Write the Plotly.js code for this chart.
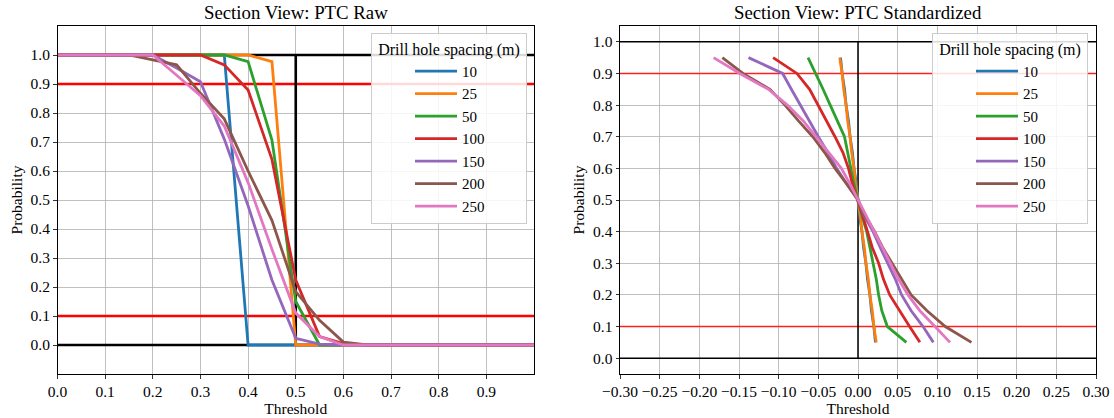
<!DOCTYPE html>
<html>
<head>
<meta charset="utf-8">
<script src="https://cdn.plot.ly/plotly-3.0.1.min.js"></script>
<style>
  html, body { margin: 0; padding: 0; background: #ffffff; }
  #chart { width: 1114px; height: 418px; }
</style>
</head>
<body>
<div id="chart"></div>
<script>
// ---------- DATA ----------
const spacings = ["10", "25", "50", "100", "150", "200", "250"];
const colors = ["#1f77b4", "#ff7f0e", "#2ca02c", "#d62728", "#9467bd", "#8c564b", "#e377c2"];

// Left panel: thresholds and probabilities (PTC Raw)
const thresholds = [0.0, 0.05, 0.1, 0.15, 0.2, 0.25, 0.3, 0.35, 0.4, 0.45, 0.5, 0.55, 0.6, 0.65, 0.7, 0.75, 0.8, 0.85, 0.9, 0.95, 1.0];
const raw10  = [1, 1, 1, 1, 1, 1, 1, 1, 0, 0, 0, 0, 0, 0, 0, 0, 0, 0, 0, 0, 0];
const raw25  = [1, 1, 1, 1, 1, 1, 1, 1, 1, 0.977, 0, 0, 0, 0, 0, 0, 0, 0, 0, 0, 0];
const raw50  = [1, 1, 1, 1, 1, 1, 1, 1, 0.977, 0.707, 0.15, 0, 0, 0, 0, 0, 0, 0, 0, 0, 0];
const raw100 = [1, 1, 1, 1, 1, 1, 1, 0.966, 0.879, 0.64, 0.224, 0.029, 0.005, 0, 0, 0, 0, 0, 0, 0, 0];
const raw150 = [1, 1, 1, 1, 1, 0.955, 0.908, 0.71, 0.48, 0.224, 0.023, 0.003, 0, 0, 0, 0, 0, 0, 0, 0, 0];
const raw200 = [1, 1, 1, 1, 0.983, 0.966, 0.868, 0.78, 0.60, 0.43, 0.184, 0.085, 0.01, 0, 0, 0, 0, 0, 0, 0, 0];
const raw250 = [1, 1, 1, 1, 1, 0.93, 0.86, 0.755, 0.56, 0.33, 0.11, 0.029, 0, 0, 0, 0, 0, 0, 0, 0, 0];

// Right panel: probabilities and standardized thresholds (PTC Standardized)
const probs = [0.95, 0.9, 0.85, 0.8, 0.75, 0.7, 0.65, 0.6, 0.55, 0.5, 0.45, 0.4, 0.35, 0.3, 0.25, 0.2, 0.15, 0.1, 0.05];
const std10  = [-0.022, -0.020, -0.017, -0.015, -0.012, -0.010, -0.007, -0.005, -0.002, 0.0, 0.002, 0.005, 0.007, 0.010, 0.012, 0.015, 0.017, 0.020, 0.022];
const std25  = [-0.023, -0.020, -0.018, -0.015, -0.013, -0.010, -0.008, -0.005, -0.003, 0.0, 0.003, 0.005, 0.008, 0.010, 0.013, 0.015, 0.018, 0.020, 0.023];
const std50  = [-0.063, -0.053, -0.044, -0.035, -0.026, -0.017, -0.013, -0.009, -0.005, 0.0, 0.005, 0.011, 0.015, 0.019, 0.023, 0.026, 0.030, 0.037, 0.061];
const std100 = [-0.107, -0.077, -0.061, -0.050, -0.039, -0.029, -0.019, -0.012, -0.007, 0.0, 0.006, 0.012, 0.018, 0.026, 0.032, 0.040, 0.052, 0.065, 0.078];
const std150 = [-0.138, -0.095, -0.084, -0.073, -0.062, -0.050, -0.038, -0.027, -0.014, 0.0, 0.008, 0.019, 0.028, 0.038, 0.047, 0.055, 0.067, 0.082, 0.095];
const std200 = [-0.171, -0.145, -0.111, -0.092, -0.075, -0.057, -0.042, -0.029, -0.014, 0.0, 0.009, 0.021, 0.031, 0.043, 0.055, 0.067, 0.087, 0.110, 0.143];
const std250 = [-0.182, -0.149, -0.113, -0.089, -0.069, -0.053, -0.036, -0.021, -0.010, 0.0, 0.010, 0.021, 0.030, 0.040, 0.051, 0.063, 0.078, 0.097, 0.116];

// Reference lines
const leftRefX = [0, 1];
const leftVertX = 0.5;
const rightRefX = [-0.3, 0.3];
const rightVertX = 0.0;
const hLevelsBlack = [0.0, 1.0];
const hLevelsRed = [0.1, 0.9];

const leftTicks = [0.0, 0.1, 0.2, 0.3, 0.4, 0.5, 0.6, 0.7, 0.8, 0.9];
const rightTicks = [-0.30, -0.25, -0.20, -0.15, -0.10, -0.05, 0.00, 0.05, 0.10, 0.15, 0.20, 0.25, 0.30];
const probTicks = [0.0, 0.1, 0.2, 0.3, 0.4, 0.5, 0.6, 0.7, 0.8, 0.9, 1.0];

const rawSeries = [raw10, raw25, raw50, raw100, raw150, raw200, raw250];
const stdSeries = [std10, std25, std50, std100, std150, std200, std250];

// ---------- STYLE ----------
const FONT = "Liberation Serif, Times New Roman, serif";
const FS = 15.5;
const LFS = 15;
const LTFS = 16;
const W = 1114, H = 418;

function refLine(x, y, color, width, xa, ya) {
  return { x: x, y: y, mode: "lines", type: "scatter", xaxis: xa, yaxis: ya,
           line: { color: color, width: width }, showlegend: false, hoverinfo: "skip" };
}

const traces = [];
// left reference lines
hLevelsBlack.forEach(v => traces.push(refLine(leftRefX, [v, v], "#000000", 2.6, "x", "y")));
hLevelsRed.forEach(v => traces.push(refLine(leftRefX, [v, v], "#ff0000", 2.6, "x", "y")));
traces.push(refLine([leftVertX, leftVertX], [0, 1], "#000000", 2.6, "x", "y"));
// right reference lines
hLevelsBlack.forEach(v => traces.push(refLine(rightRefX, [v, v], "#000000", 1.5, "x2", "y2")));
hLevelsRed.forEach(v => traces.push(refLine(rightRefX, [v, v], "#ff2020", 1.5, "x2", "y2")));
traces.push(refLine([rightVertX, rightVertX], [0, 1], "#000000", 1.5, "x2", "y2"));

spacings.forEach((s, i) => {
  traces.push({ x: thresholds, y: rawSeries[i], type: "scatter", mode: "lines", name: s,
    xaxis: "x", yaxis: "y", legend: "legend",
    line: { color: colors[i], width: 2.8 } });
});
spacings.forEach((s, i) => {
  traces.push({ x: stdSeries[i], y: probs, type: "scatter", mode: "lines", name: s,
    xaxis: "x2", yaxis: "y2", legend: "legend2",
    line: { color: colors[i], width: 2.8 } });
});

const yDom = [1 - 374 / H, 1 - 26 / H];
const axCommon = {
  showgrid: true, gridcolor: "#b0b0b0", gridwidth: 0.8,
  showline: true, linecolor: "#000000", linewidth: 1, mirror: true,
  ticks: "outside", ticklen: 3.5, tickwidth: 0.8, tickcolor: "#000000",
  zeroline: false, automargin: false,
  tickfont: { family: FONT, size: FS, color: "#000000" }
};

function legendCfg(rightPx) {
  return {
    x: rightPx / W, xanchor: "right", y: 1 - 33 / H, yanchor: "top",
    bgcolor: "rgba(255,255,255,0.85)", bordercolor: "#cccccc", borderwidth: 1,
    font: { family: FONT, size: LFS, color: "#000000" },
    title: { text: "\u00a0Drill hole spacing (m)\u00a0", side: "top center", font: { family: FONT, size: LTFS, color: "#000000" } },
    itemwidth: 42, indentation: 38, traceorder: "normal"
  };
}

const layout = {
  width: W, height: H,
  margin: { l: 0, r: 0, t: 0, b: 0 },
  paper_bgcolor: "#ffffff", plot_bgcolor: "#ffffff",
  font: { family: FONT, size: FS, color: "#000000" },
  xaxis: Object.assign({}, axCommon, {
    domain: [57.5 / W, 534 / W], range: [0, 1], tickvals: leftTicks, tickformat: ".1f",
    anchor: "y",
    title: { text: "Threshold", font: { family: FONT, size: FS }, standoff: 4 }
  }),
  yaxis: Object.assign({}, axCommon, {
    domain: yDom, range: [-0.1, 1.1], tickvals: probTicks, tickformat: ".1f",
    anchor: "x",
    title: { text: "Probability", font: { family: FONT, size: FS }, standoff: 4 }
  }),
  xaxis2: Object.assign({}, axCommon, {
    domain: [620 / W, 1096 / W], range: [-0.3, 0.3], tickvals: rightTicks, tickformat: ".2f",
    anchor: "y2",
    title: { text: "Threshold", font: { family: FONT, size: FS }, standoff: 4 }
  }),
  yaxis2: Object.assign({}, axCommon, {
    domain: yDom, range: [-0.05, 1.05], tickvals: probTicks, tickformat: ".1f",
    anchor: "x2",
    title: { text: "Probability", font: { family: FONT, size: FS }, standoff: 4 }
  }),
  legend: legendCfg(527),
  legend2: legendCfg(1088),
  annotations: [
    { text: "Section View: PTC Raw", xref: "paper", yref: "paper",
      x: (57.5 + 534) / 2 / W, y: 1 - 13 / H, xanchor: "center", yanchor: "middle",
      showarrow: false, font: { family: FONT, size: 18.8, color: "#000000" } },
    { text: "Section View: PTC Standardized", xref: "paper", yref: "paper",
      x: (620 + 1096) / 2 / W, y: 1 - 13 / H, xanchor: "center", yanchor: "middle",
      showarrow: false, font: { family: FONT, size: 18.8, color: "#000000" } }
  ],
  showlegend: true
};

Plotly.newPlot("chart", traces, layout, { displayModeBar: false, staticPlot: true });
</script>
</body>
</html>
